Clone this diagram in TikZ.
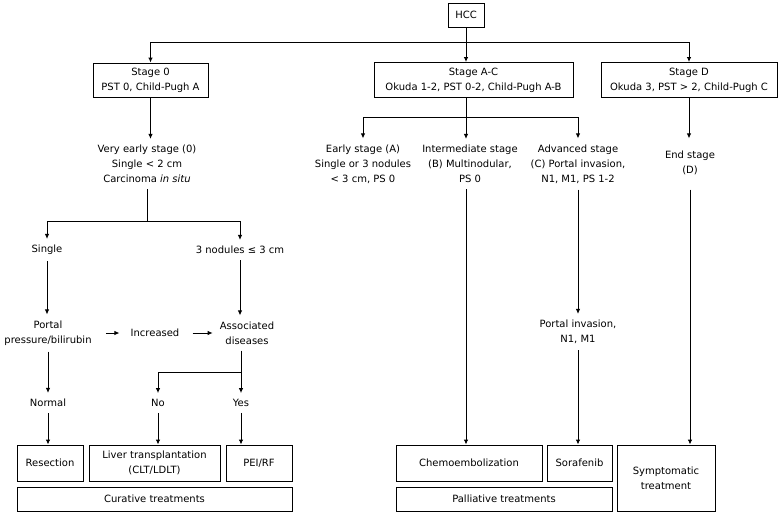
\documentclass[tikz,border=0pt]{standalone}
\usepackage{fontspec}
\setmainfont{DejaVu Sans}
\usetikzlibrary{arrows.meta,calc}
\tikzset{
  boxnode/.style={draw, line width=0.9pt, inner sep=0pt, align=center, font=\fontsize{10}{15}\selectfont},
  txt/.style={align=center, inner xsep=2pt, inner ysep=6pt, font=\fontsize{10}{15}\selectfont},
  arr/.style={line width=0.9pt, -{Latex[length=5pt,width=4.5pt]}},
  ln/.style={line width=0.9pt}
}
\begin{document}
\begin{tikzpicture}[x=1pt,y=-1pt]
\useasboundingbox (0,0) rectangle (780,517);
% boxes
\node[boxnode, minimum width=36, minimum height=24] (hcc) at (466,15) {HCC};
\node[boxnode, minimum width=115, minimum height=34] (s0) at (150.5,80) {Stage 0\\PST 0, Child-Pugh A};
\node[boxnode, minimum width=199, minimum height=35] (sAC) at (473.5,80) {Stage A-C\\Okuda 1-2, PST 0-2, Child-Pugh A-B};
\node[boxnode, minimum width=176, minimum height=35] (sD) at (689,80) {Stage D\\Okuda 3, PST {>} 2, Child-Pugh C};
% texts
\node[txt] (vearly) at (147,164) {Very early stage (0)\\Single {<} 2 cm\\Carcinoma \textit{in situ}};
\node[txt] (early) at (363,164) {Early stage (A)\\Single or 3 nodules\\{<} 3 cm, PS 0};
\node[txt] (inter) at (470,164) {Intermediate stage\\(B) Multinodular,\\PS 0};
\node[txt] (adv) at (578,164) {Advanced stage\\(C) Portal invasion,\\N1, M1, PS 1-2};
\node[txt] (endD) at (690,163) {End stage\\(D)};
\node[txt] (single) at (47,250) {Single};
\node[txt] (nod3) at (240,250) {3 nodules ≤ 3 cm};
\node[txt] (portal) at (48,333) {Portal\\pressure/bilirubin};
\node[txt] (incr) at (155,333) {Increased};
\node[txt] (assoc) at (247,333) {Associated\\diseases};
\node[txt] (normal) at (48,403) {Normal};
\node[txt] (no) at (158,403) {No};
\node[txt] (yes) at (241,403) {Yes};
\node[txt] (portinv) at (578,332) {Portal invasion,\\N1, M1};
% bottom boxes
\node[boxnode, minimum width=66, minimum height=36] (resect) at (50,463) {Resection};
\node[boxnode, minimum width=131, minimum height=36] (liver) at (154.5,463) {Liver transplantation\\(CLT/LDLT)};
\node[boxnode, minimum width=66, minimum height=36] (pei) at (259,463) {PEI/RF};
\node[boxnode, minimum width=275, minimum height=24] (cur) at (154.5,499) {Curative treatments};
\node[boxnode, minimum width=146, minimum height=36] (chemo) at (469,463) {Chemoembolization};
\node[boxnode, minimum width=65, minimum height=36] (sora) at (579.5,463) {Sorafenib};
\node[boxnode, minimum width=216, minimum height=24] (pall) at (504,499) {Palliative treatments};
\node[boxnode, minimum width=98, minimum height=66] (sympt) at (666,478) {Symptomatic\\treatment};
% helper rows
\coordinate (ytop) at (0,42);
\coordinate (yac) at (0,117);
\coordinate (ysp) at (0,221);
\coordinate (ybr) at (0,372);
% top connectors
\draw[arr] (hcc.south) -- (hcc.south |- sAC.north);
\draw[arr] (hcc.south |- ytop) -| (s0.north);
\draw[arr] (hcc.south |- ytop) -| (sD.north);
% stage A-C branches
\draw[ln] (hcc.south |- sAC.south) -- (hcc.south |- yac);
\draw[arr] (hcc.south |- yac) -| (early.north);
\draw[arr] (hcc.south |- yac) -- (hcc.south |- inter.north);
\draw[arr] (hcc.south |- yac) -| (adv.north);
\draw[arr] (sD.south) -- (sD.south |- early.north);
\draw[arr] (hcc.south |- inter.south) -- (hcc.south |- chemo.north);
\draw[arr] (adv.south) -- (adv.south |- portinv.north);
\draw[arr] (portinv.south) -- (portinv.south |- sora.north);
\draw[arr] (endD.south |- adv.south) -- (endD.south |- sympt.north);
% stage 0 branches
\draw[arr] (s0.south) -- (s0.south |- vearly.north);
\draw[ln] (vearly.south) -- (vearly.south |- ysp);
\draw[arr] (vearly.south |- ysp) -| (single.north);
\draw[arr] (vearly.south |- ysp) -| (nod3.north);
\draw[arr] (single.south) -- (single.south |- portal.north);
\draw[arr] (nod3.south) -- (nod3.south |- assoc.north);
\draw[arr, shorten <=12pt, shorten >=9pt] (portal.east |- incr.west) -- (incr.west);
\draw[arr, shorten <=11pt, shorten >=5pt] (incr.east) -- (incr.east -| assoc.west);
\draw[arr] (portal.south) -- (portal.south |- normal.north);
\draw[arr] (yes.north |- assoc.south) -- (yes.north);
\draw[arr] (yes.north |- ybr) -| (no.north);
\draw[arr] (normal.south) -- (normal.south |- resect.north);
\draw[arr] (no.south) -- (no.south |- liver.north);
\draw[arr] (yes.south) -- (yes.south |- pei.north);
\end{tikzpicture}
\end{document}
